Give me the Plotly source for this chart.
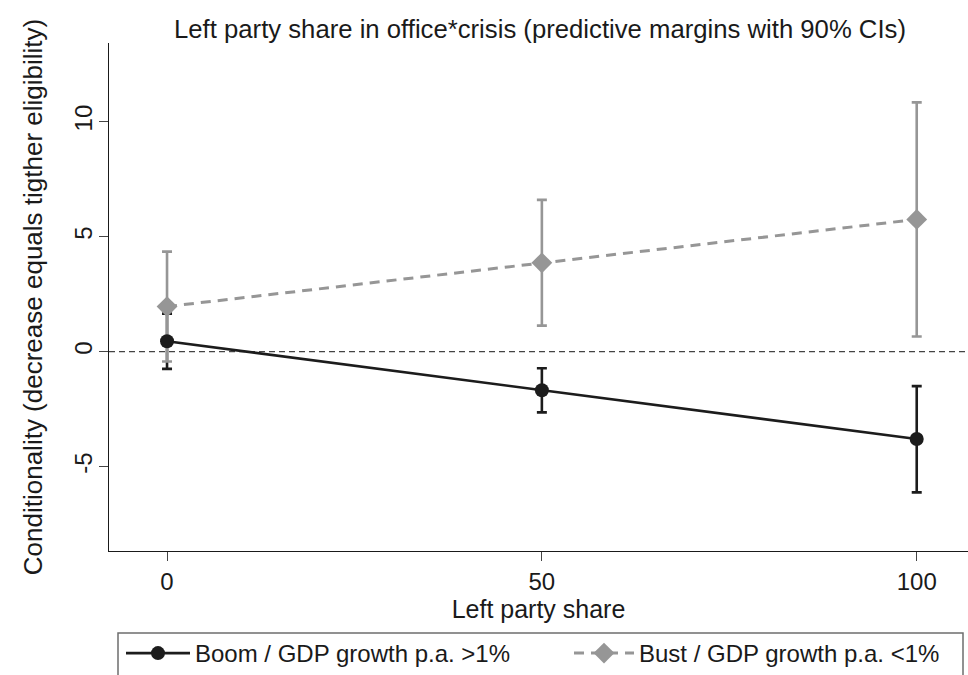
import plotly.graph_objects as go

# Left party share in office (x) and predictive margins by economic regime
left_share = [0, 50, 100]

boom_margin = [0.45, -1.68, -3.80]
boom_lower = [-0.75, -2.64, -6.12]
boom_upper = [1.65, -0.72, -1.50]

bust_margin = [1.96, 3.86, 5.75]
bust_lower = [-0.43, 1.13, 0.66]
bust_upper = [4.35, 6.60, 10.84]

boom_name = "Boom / GDP growth p.a. >1%"
bust_name = "Bust / GDP growth p.a. <1%"

x_ticks = [0, 50, 100]
y_ticks = [-5, 0, 5, 10]
y_tick_labels = ["-5", "0", "5", "10"]

BLACK = "#1c1c1c"
GREY = "#969696"
FONT = "Liberation Sans, Arial, sans-serif"

# plot-area geometry in pixels, used to place the legend
PLOT_LEFT, PLOT_W = 109, 859
PLOT_BOTTOM, PLOT_H = 551, 508


def px_x(px):
    return (px - PLOT_LEFT) / PLOT_W


def px_y(py):
    return (PLOT_BOTTOM - py) / PLOT_H


def ci(center, lower, upper):
    plus = [u - c for u, c in zip(upper, center)]
    minus = [c - l for c, l in zip(center, lower)]
    return plus, minus


boom_plus, boom_minus = ci(boom_margin, boom_lower, boom_upper)
bust_plus, bust_minus = ci(bust_margin, bust_lower, bust_upper)

fig = go.Figure()

# confidence intervals (drawn beneath the lines and markers)
fig.add_trace(go.Scatter(
    x=left_share, y=boom_margin, mode="markers",
    marker=dict(size=1, opacity=0), showlegend=False, hoverinfo="skip",
    error_y=dict(type="data", symmetric=False, array=boom_plus,
                 arrayminus=boom_minus, color=BLACK, thickness=2.6, width=5),
))
fig.add_trace(go.Scatter(
    x=left_share, y=bust_margin, mode="markers",
    marker=dict(size=1, opacity=0), showlegend=False, hoverinfo="skip",
    error_y=dict(type="data", symmetric=False, array=bust_plus,
                 arrayminus=bust_minus, color=GREY, thickness=2.6, width=5),
))

# predictive margins
fig.add_trace(go.Scatter(
    x=left_share, y=boom_margin, mode="lines+markers", name=boom_name,
    line=dict(color=BLACK, width=2.6),
    marker=dict(symbol="circle", size=14, color=BLACK),
    legend="legend",
))
fig.add_trace(go.Scatter(
    x=left_share, y=bust_margin, mode="lines+markers", name=bust_name,
    line=dict(color=GREY, width=3, dash="10px,7px"),
    marker=dict(symbol="diamond", size=16, color=GREY),
    legend="legend2",
))

# reference line at zero
fig.add_shape(type="line", xref="paper", yref="y", x0=0, x1=1, y0=0, y1=0,
              line=dict(color="#444444", width=1.2, dash="6px,4px"), layer="below")

# frame around the legend entries
fig.add_shape(type="rect", xref="paper", yref="paper",
              x0=px_x(118), x1=px_x(963), y0=px_y(633), y1=px_y(690),
              line=dict(color="#6e6e6e", width=1.5), fillcolor="rgba(0,0,0,0)")

legend_common = dict(
    orientation="h", xanchor="left", yanchor="top", y=px_y(631),
    borderwidth=0, bgcolor="rgba(0,0,0,0)", font=dict(size=24),
)

fig.update_layout(
    width=968, height=675,
    margin=dict(l=PLOT_LEFT, r=0, t=43, b=675 - PLOT_BOTTOM, autoexpand=False),
    paper_bgcolor="white", plot_bgcolor="white",
    font=dict(family=FONT, size=24, color="#1a1a1a"),
    title=dict(
        text="Left party share in office*crisis (predictive margins with 90% CIs)",
        x=540 / 968, xanchor="center", xref="container",
        y=1 - 29 / 675, yanchor="middle", yref="container",
        font=dict(size=25.7),
    ),
    xaxis=dict(
        range=[-7.74, 106.84], tickvals=x_ticks, ticks="outside", ticklen=9,
        tickwidth=1.2, tickcolor="#444444", showline=True, linecolor="#1a1a1a",
        linewidth=1.3, showgrid=False, zeroline=False,
        title=dict(text="Left party share", standoff=4, font=dict(size=25)),
    ),
    yaxis=dict(
        range=[-8.67, 13.42], tickvals=y_ticks, ticktext=y_tick_labels,
        ticks="outside", ticklen=9,
        tickwidth=1.2, tickcolor="#444444", showline=True, linecolor="#1a1a1a",
        linewidth=1.3, showgrid=False, zeroline=False, tickangle=-90,
        ticklabelstandoff=-3,
        title=dict(text="Conditionality (decrease equals tigther eligibility)",
                   standoff=20, font=dict(size=26)),
    ),
    legend=dict(x=px_x(121), itemwidth=64, **legend_common),
    legend2=dict(x=px_x(569), itemwidth=60, **legend_common),
    showlegend=True,
)

fig.write_html("out.html")
